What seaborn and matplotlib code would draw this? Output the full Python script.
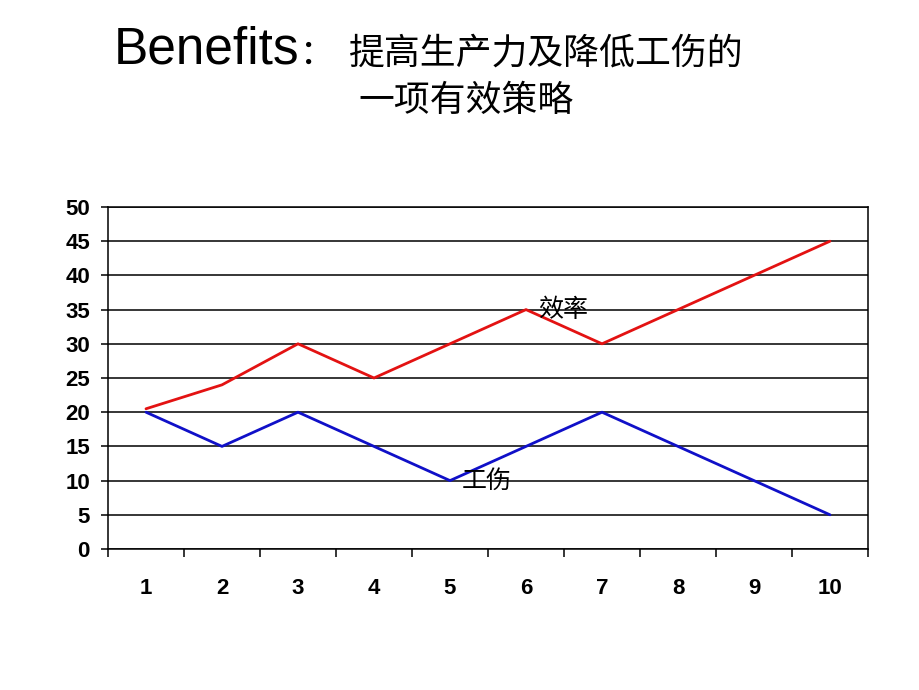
import numpy as np
import pandas as pd
import matplotlib
matplotlib.use("Agg")
import matplotlib.pyplot as plt
import seaborn as sns

# data
categories = ["1", "2", "3", "4", "5", "6", "7", "8", "9", "10"]
efficiency = [20.5, 24, 30, 25, 30, 35, 30, 35, 40, 45]   # 效率
injury = [20, 15, 20, 15, 10, 15, 20, 15, 10, 5]          # 工伤

sns.set_style("white")
plt.rcParams['font.family'] = ['Liberation Sans', 'Noto Sans CJK SC', 'DejaVu Sans']
plt.rcParams['text.color'] = 'black'
plt.rcParams['xtick.color'] = 'black'
plt.rcParams['ytick.color'] = 'black'

cjk = ['Noto Sans CJK SC', 'DejaVu Sans']

df = pd.DataFrame({"pos": np.arange(len(categories)),
                   "效率": efficiency, "工伤": injury})

fig = plt.figure(figsize=(9.2, 6.9), dpi=100)
ax = fig.add_axes([108 / 920, 1 - 549 / 690, 760 / 920, 342 / 690])

ax.yaxis.grid(True, color="black", linewidth=1.1)
ax.set_axisbelow(True)
sns.lineplot(data=df, x="pos", y="效率", color="#e31212", linewidth=2.0, ax=ax)
sns.lineplot(data=df, x="pos", y="工伤", color="#1010c8", linewidth=2.0, ax=ax)

ax.set_xlim(-0.5, len(categories) - 0.5)
ax.set_ylim(0, 50)
ax.set_yticks(np.arange(0, 51, 5))
ax.set_xticks(np.arange(len(categories)))
ax.set_xticklabels(categories)
ax.set_xticks(np.arange(len(categories) + 1) - 0.5, minor=True)
ax.set_xlabel("")
ax.set_ylabel("")

for lab in ax.get_xticklabels() + ax.get_yticklabels():
    lab.set_fontweight("bold")
    lab.set_fontsize(16)
    lab.set_color("black")
ax.tick_params(axis="x", which="major", length=0, pad=21)
ax.tick_params(axis="x", which="minor", length=6, width=1.1, color="black", direction="out", bottom=True)
ax.tick_params(axis="y", length=5, width=1.1, color="black", direction="out", left=True, pad=8)

for side in ["left", "right", "bottom", "top"]:
    ax.spines[side].set_color("black")
    ax.spines[side].set_linewidth(1.1)

# series labels
ax.text(5.16, 35, "效率", fontsize=18, va="center", ha="left", family=cjk)
ax.text(4.16, 10, "工伤", fontsize=18, va="center", ha="left", family=cjk)

# title
fig.text(114 / 920, 1 - 50 / 690, "Benefits", fontsize=37, va="center", ha="left")
fig.text(300 / 920, 1 - 54 / 690, "：", fontsize=25, va="center", ha="left", family=cjk)
fig.text(349 / 920, 1 - 54 / 690, "提高生产力及降低工伤的", fontsize=25.8, va="center", ha="left",
         family=cjk)
fig.text(358 / 920, 1 - 101 / 690, "一项有效策略", fontsize=25.8, va="center", ha="left",
         family=cjk)

fig.savefig("out.png", dpi=100)
